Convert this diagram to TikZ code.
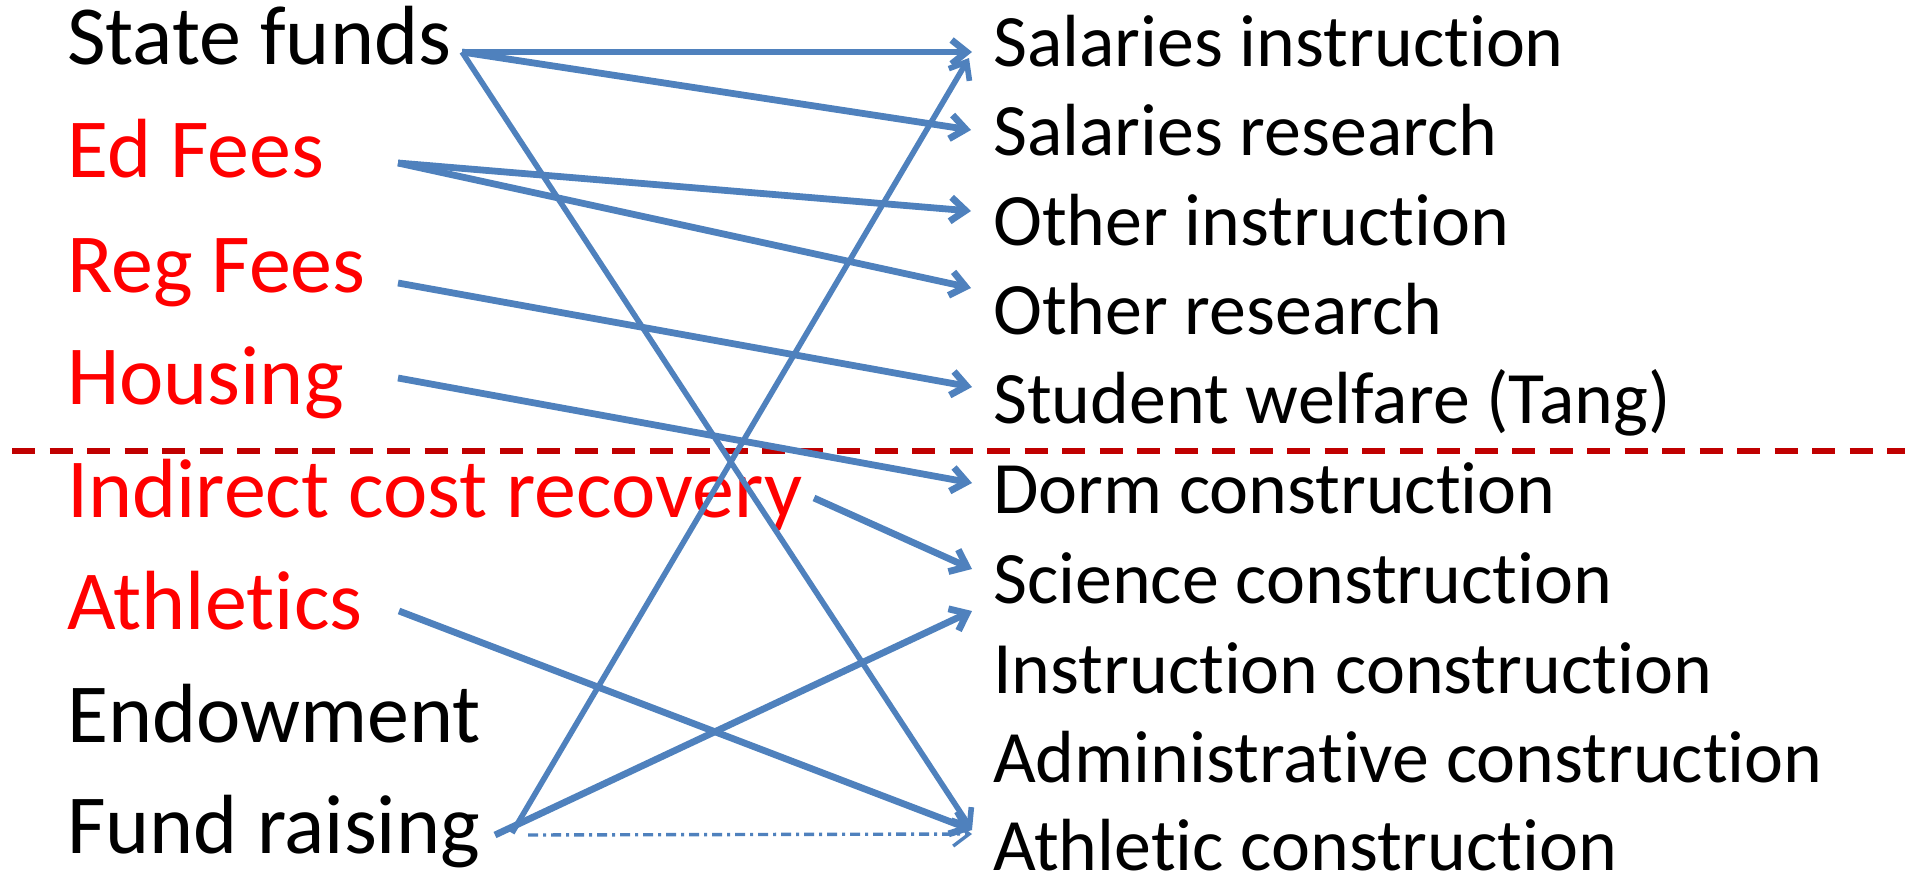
\documentclass[tikz,border=0pt]{standalone}
\usepackage{fontspec}
\setmainfont[Ligatures=NoCommon]{Carlito}
\usetikzlibrary{arrows.meta}
\definecolor{flowblue}{HTML}{4F81BD}
\definecolor{sepred}{HTML}{C00000}
\begin{document}
\begin{tikzpicture}[x=1pt,y=-1pt,
  srcbox/.style={anchor=base west,inner sep=0pt,font=\fontsize{84}{90}\selectfont},
  redsrc/.style={srcbox,text=red},
  usebox/.style={anchor=base west,inner sep=0pt,font=\fontsize{73.9}{80}\selectfont},
  flow/.style={draw=flowblue,line width=6.8pt,-{Straight Barb[length=15pt,width=24pt]}},
  thinflow/.style={flow,line width=5.6pt},
  dotflow/.style={draw=flowblue,line width=3.4pt,dash pattern=on 10pt off 5pt on 3pt off 5pt,-{Straight Barb[length=16pt,width=24pt]}},
  sepline/.style={draw=sepred,line width=6.5pt,dash pattern=on 23pt off 14.5pt}]
\useasboundingbox (0,0) rectangle (1915,872);

% sources
\node[srcbox] (sf) at (67,65) {State funds};
\node[redsrc] (ef) at (67,178) {Ed Fees};
\node[redsrc] (rf) at (67,292) {Reg Fees};
\node[redsrc] (ho) at (67,404) {Housing};
\node[redsrc] (ic) at (67,517) {Indirect cost recovery};
\node[redsrc] (at) at (67,629) {Athletics};
\node[srcbox] (en) at (67,742) {Endowment};
\node[srcbox] (fr) at (67,853) {Fund raising};

% uses
\node[usebox] (si) at (993,67) {Salaries instruction};
\node[usebox] (sr) at (993,156) {Salaries research};
\node[usebox] (oi) at (993,245) {Other instruction};
\node[usebox] (or) at (993,334) {Other research};
\node[usebox] (sw) at (993,423) {Student welfare (Tang)};
\node[usebox] (dc) at (993,513) {Dorm construction};
\node[usebox] (sc) at (993,603) {Science construction};
\node[usebox] (inc) at (993,693) {Instruction construction};
\node[usebox] (adc) at (993,782) {Administrative construction};
\node[usebox] (ac) at (993,870) {Athletic construction};

% separator
\coordinate (sepL) at (12,451);
\coordinate (sepR) at (1905,451);
\draw[sepline] (sepL) -- (sepR);

% ports
\coordinate (sf-o) at (462,52);
\coordinate (ef-o) at (398,163);
\coordinate (rf-o) at (398,283);
\coordinate (ho-o) at (398,378);
\coordinate (ic-o) at (814,498);
\coordinate (at-o) at (399,611);
\coordinate (fr-o1) at (495,835);
\coordinate (fr-o2) at (512,833);
\coordinate (fr-o3) at (528,835);

\coordinate (si-i) at (972,52);
\coordinate (si-i2) at (969,58);
\coordinate (sr-i) at (971,130);
\coordinate (oi-i) at (971,211);
\coordinate (or-i) at (971,288);
\coordinate (sw-i) at (972,387);
\coordinate (dc-i) at (972,483);
\coordinate (sc-i1) at (972,569);
\coordinate (sc-i2) at (972,611);
\coordinate (ac-i) at (972,830);
\coordinate (ac-i2) at (972,834);

% flows
\draw[flow] (sf-o) -- (si-i);
\draw[flow] (sf-o) -- (sr-i);
\draw[thinflow] (sf-o) -- (ac-i);
\draw[flow] (ef-o) -- (oi-i);
\draw[flow] (ef-o) -- (or-i);
\draw[flow] (rf-o) -- (sw-i);
\draw[flow] (ho-o) -- (dc-i);
\draw[flow] (ic-o) -- (sc-i1);
\draw[flow] (at-o) -- (ac-i);
\draw[thinflow] (fr-o2) -- (si-i2);
\draw[flow] (fr-o1) -- (sc-i2);
\draw[dotflow] (fr-o3) -- (ac-i2);
\end{tikzpicture}
\end{document}
